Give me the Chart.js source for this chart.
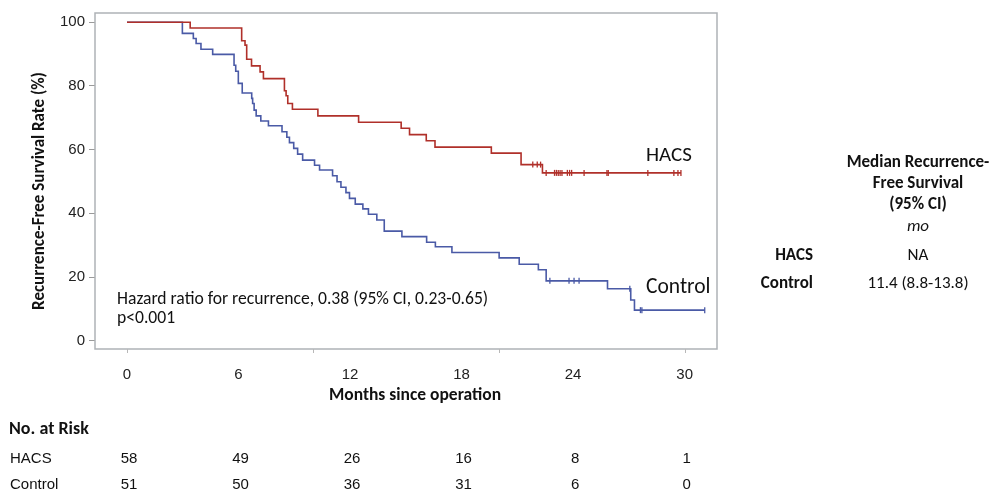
<!DOCTYPE html>
<html>
<head>
<meta charset="utf-8">
<script src="https://cdn.jsdelivr.net/npm/chart.js@4.4.1/dist/chart.umd.min.js"></script>
<style>
  body { margin: 0; background: #fff; }
  canvas { display: block; }
</style>
</head>
<body>
<canvas id="kmChart" width="990" height="492"></canvas>
<script>
// Kaplan-Meier steps: month of each drop and survival (%) right after it
const hacsTime = [0, 3.4, 6.17, 6.35, 6.44, 6.7, 7.16, 7.34, 8.47, 8.56, 8.65, 8.9, 10.27, 12.46, 14.75, 15.2, 16.1, 16.57, 19.6, 21.2, 22.35];
const hacsRate = [100, 98.2, 94.2, 92.8, 88.4, 86.3, 84.4, 82.3, 78.5, 76.9, 74.5, 72.7, 70.6, 68.6, 66.7, 64.7, 62.8, 60.8, 58.9, 55.3, 52.7];
const hacsCensor = [21.83, 22.07, 22.25, 22.55, 23.0, 23.1, 23.2, 23.3, 23.4, 23.69, 23.81, 23.92, 24.59, 25.82, 25.89, 28.02, 29.42, 29.64, 29.8];

const controlTime = [0, 2.98, 3.57, 3.72, 3.98, 4.61, 5.76, 5.85, 5.99, 6.2, 6.71, 6.76, 6.84, 6.95, 7.2, 7.61, 8.34, 8.6, 8.74, 8.97, 9.18, 9.45, 10.09, 10.36, 11.06, 11.3, 11.51, 11.78, 11.97, 12.28, 12.69, 12.99, 13.44, 13.84, 14.79, 16.12, 16.59, 17.48, 20.02, 21.1, 22.13, 22.55, 25.85, 27.1, 27.3];
const controlRate = [100, 96.5, 94.9, 93.3, 91.5, 89.9, 86.5, 84.6, 80.8, 77.8, 76.1, 74.5, 72.4, 70.6, 69.0, 67.5, 65.6, 63.9, 62.2, 60.4, 58.6, 56.7, 55.1, 53.6, 51.8, 49.9, 48.2, 46.5, 44.7, 42.9, 41.4, 39.7, 37.9, 34.4, 32.7, 30.9, 29.5, 27.7, 26.0, 24.0, 22.3, 18.8, 16.3, 12.8, 9.6];
const controlCensor = [22.75, 23.78, 24.05, 24.32, 27.05, 27.62, 27.7, 31.08];

// axis ticks
const xTicks = [0, 6, 12, 18, 24, 30];
const xMinorTicks = [0, 10, 20, 30];
const yTicks = [0, 20, 40, 60, 80, 100];

// number at risk table
const riskTimes = [0, 6, 12, 18, 24, 30];
const hacsAtRisk = [58, 49, 26, 16, 8, 1];
const controlAtRisk = [51, 50, 36, 31, 6, 0];

const RED = '#b0302a';
const BLUE = '#4a5aa6';
const calibri = 'Carlito, Lato, "Open Sans", sans-serif';
const arial = '"Liberation Sans", Arial, sans-serif';

function stepPoints(times, rates, end) {
    const pts = times.map((t, i) => ({x: t, y: rates[i]}));
    pts.push({x: end, y: rates[rates.length - 1]});
    return pts;
}

function levelAt(times, rates, t) {
    let r = rates[0];
    times.forEach((tt, i) => { if (tt <= t) r = rates[i]; });
    return r;
}

function censorPoints(censor, times, rates) {
    return censor.map(t => ({x: t, y: levelAt(times, rates, t)}));
}

function text(ctx, str, x, y, font, align) {
    ctx.font = font;
    ctx.textAlign = align || 'left';
    ctx.fillText(str, x, y);
}

const extras = {
    id: 'extras',
    afterDraw(chart) {
        const ctx = chart.ctx;
        const a = chart.chartArea;
        const x = chart.scales.x;
        ctx.save();
        // frame
        ctx.strokeStyle = '#aeb2b6';
        ctx.lineWidth = 1.5;
        ctx.strokeRect(a.left, a.top, a.right - a.left, a.bottom - a.top);
        // small tick marks under the axis
        ctx.strokeStyle = '#b8b8b8';
        ctx.lineWidth = 1;
        xMinorTicks.forEach(v => {
            const px = Math.round(x.getPixelForValue(v)) + 0.5;
            ctx.beginPath();
            ctx.moveTo(px, a.bottom);
            ctx.lineTo(px, a.bottom + 4);
            ctx.stroke();
        });

        ctx.fillStyle = '#111';
        ctx.textBaseline = 'middle';

        // axis titles
        ctx.save();
        ctx.translate(40, 191);
        ctx.rotate(-Math.PI / 2);
        text(ctx, 'Recurrence-Free Survival Rate (%)', 0, 0, 'bold 17px ' + calibri, 'center');
        ctx.restore();
        text(ctx, 'Months since operation', 415, 396, 'bold 17.5px ' + calibri, 'center');

        // curve labels
        text(ctx, 'HACS', 646, 156, '21px ' + calibri);
        text(ctx, 'Control', 646, 288, '21.5px ' + calibri);

        // hazard ratio note
        text(ctx, 'Hazard ratio for recurrence, 0.38 (95% CI, 0.23-0.65)', 117, 300, '17.6px ' + calibri);
        text(ctx, 'p<0.001', 117, 319, '17.6px ' + calibri);

        // median panel
        const bold = 'bold 17px ' + calibri;
        text(ctx, 'Median Recurrence-', 918, 163, bold, 'center');
        text(ctx, 'Free Survival', 918, 184, bold, 'center');
        text(ctx, '(95% CI)', 918, 205, bold, 'center');
        text(ctx, 'mo', 918, 227, 'italic 17px ' + calibri, 'center');
        text(ctx, 'HACS', 813, 256, bold, 'right');
        text(ctx, 'NA', 918, 256, '17px ' + calibri, 'center');
        text(ctx, 'Control', 813, 284, bold, 'right');
        text(ctx, '11.4 (8.8-13.8)', 918, 284, '17px ' + calibri, 'center');

        // number at risk
        text(ctx, 'No. at Risk', 9, 429, 'bold 18px ' + calibri);
        text(ctx, 'HACS', 10, 459, '15px ' + arial);
        text(ctx, 'Control', 10, 485, '15px ' + arial);
        riskTimes.forEach((t, i) => {
            const px = x.getPixelForValue(t) + 2;
            text(ctx, String(hacsAtRisk[i]), px, 459, '15px ' + arial, 'center');
            text(ctx, String(controlAtRisk[i]), px, 485, '15px ' + arial, 'center');
        });
        ctx.restore();
    }
};

const data = {
    datasets: [{
        label: 'HACS',
        data: stepPoints(hacsTime, hacsRate, hacsCensor[hacsCensor.length - 1]),
        borderColor: RED,
        borderWidth: 1.6,
        stepped: true,
        pointRadius: 0,
        fill: false
    }, {
        label: 'HACS censored',
        data: censorPoints(hacsCensor, hacsTime, hacsRate),
        showLine: false,
        pointStyle: 'line',
        rotation: 90,
        pointRadius: 3,
        pointBorderWidth: 1.3,
        borderColor: RED
    }, {
        label: 'Control',
        data: stepPoints(controlTime, controlRate, controlCensor[controlCensor.length - 1]),
        borderColor: BLUE,
        borderWidth: 1.6,
        stepped: true,
        pointRadius: 0,
        fill: false
    }, {
        label: 'Control censored',
        data: censorPoints(controlCensor, controlTime, controlRate),
        showLine: false,
        pointStyle: 'line',
        rotation: 90,
        pointRadius: 3,
        pointBorderWidth: 1.3,
        borderColor: BLUE
    }]
};

const config = {
    type: 'line',
    data: data,
    options: {
        responsive: false,
        animation: false,
        events: [],
        layout: { padding: { left: 0, top: 13, right: 273, bottom: 83 } },
        plugins: { legend: { display: false }, tooltip: { enabled: false } },
        scales: {
            x: {
                type: 'linear',
                min: -1.72,
                max: 31.74,
                afterBuildTicks: s => { s.ticks = xTicks.map(v => ({value: v})); },
                afterFit: s => { s.height = 60; },
                grid: { display: false },
                border: { display: false },
                ticks: { autoSkip: false, maxRotation: 0, padding: 9, color: '#222', font: { family: arial, size: 15 } }
            },
            y: {
                min: -2.6,
                max: 102.9,
                afterBuildTicks: s => { s.ticks = yTicks.map(v => ({value: v})); },
                afterFit: s => { s.width = 95; },
                grid: { drawOnChartArea: false, drawTicks: true, tickLength: 6, color: '#9a9a9a' },
                border: { display: false },
                ticks: { padding: 4, color: '#222', font: { family: arial, size: 15 } }
            }
        }
    },
    plugins: [extras]
};

const myChart = new Chart(document.getElementById('kmChart'), config);
</script>
</body>
</html>
